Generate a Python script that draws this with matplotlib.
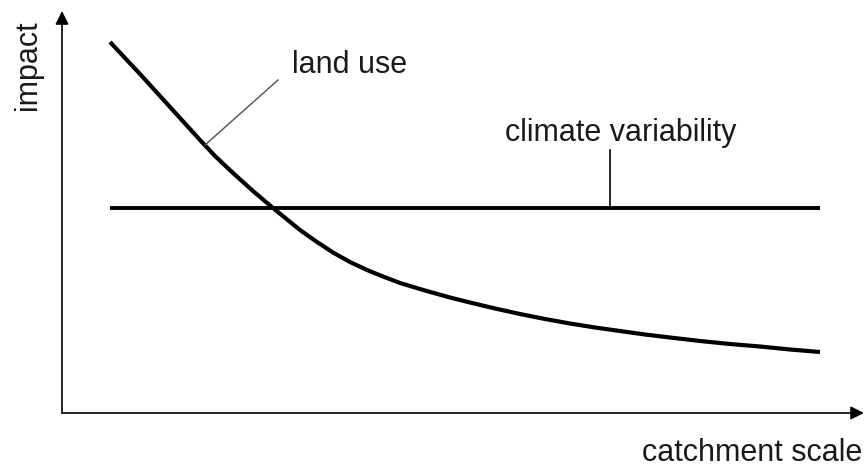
import matplotlib.pyplot as plt

plt.rcParams['font.family'] = ['Liberation Sans', 'DejaVu Sans']

# land use impact vs catchment scale (axis origin at 0,0)
scale = [48, 63, 78, 93, 108, 123, 138, 153, 171, 191, 211, 238, 255, 271, 288, 305, 321,
         338, 363, 388, 408, 433, 458, 483, 508, 533, 558, 583, 608, 638, 668, 698, 728, 758]
land_use = [371, 355, 339, 322.5, 306, 289.5, 273, 257, 240, 222, 205, 183, 171, 160.5, 151, 143, 136.5,
            130, 122.5, 115.5, 110.5, 104.5, 99, 94, 89.5, 85.5, 82, 78.5, 75.5, 72, 69, 66.5, 63.5, 61]
climate_x = [48, 758]
climate = [205, 205]

fig = plt.figure(figsize=(8.64, 4.68), dpi=100)
ax = fig.add_axes([0, 0, 1, 1])
ax.set_xlim(-62, 802)
ax.set_ylim(-55, 413)
ax.axis('off')

# axes with arrows
ax.annotate('', xy=(0, 402), xytext=(0, 0),
            arrowprops=dict(arrowstyle='-|>', color='black', lw=1.2, mutation_scale=20, shrinkA=0, shrinkB=0))
ax.annotate('', xy=(802, 0), xytext=(0, 0),
            arrowprops=dict(arrowstyle='-|>', color='black', lw=1.2, mutation_scale=20, shrinkA=0, shrinkB=0))

ax.plot(scale, land_use, color='black', lw=3.0, solid_capstyle='butt', solid_joinstyle='round')
ax.plot(climate_x, climate, color='black', lw=2.8, solid_capstyle='butt')

# leader lines
ax.plot([143, 216], [268, 333], color='#505050', lw=1.0)
ax.plot([548, 548], [205, 263], color='black', lw=1.2)

txt = dict(fontsize=22, color='#1a1a1a', fontweight='light')
ax.text(230, 348, 'land use', va='center', ha='left', **txt)
ax.text(443, 280, 'climate variability', va='center', ha='left', **txt)
ax.text(-34, 348, 'impact', va='center', ha='center', rotation=90, **txt)
ax.text(800, -40, 'catchment scale', va='center', ha='right', **txt)

fig.savefig('out.png', dpi=100)
